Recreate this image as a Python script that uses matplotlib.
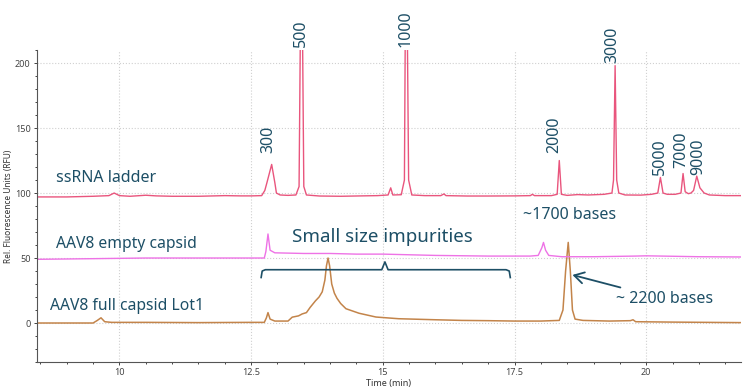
import matplotlib.pyplot as plt
from matplotlib.ticker import MultipleLocator

# Data
ladder_t = [8.43, 9.0, 9.5, 9.8, 9.9, 10.0, 10.2, 10.5, 10.7, 11.0, 11.5, 12.0, 12.3, 12.5, 12.7,
            12.76, 12.8, 12.89, 12.95, 12.98, 13.05, 13.2, 13.35, 13.41, 13.44, 13.47, 13.50, 13.55,
            13.8, 14.2, 14.6, 14.9, 15.10, 15.15, 15.19, 15.35, 15.41, 15.43, 15.46, 15.49, 15.55,
            15.8, 16.1, 16.16, 16.2, 16.6, 17.0, 17.5, 17.8, 17.84, 17.88, 18.2, 18.31, 18.35, 18.39,
            18.5, 18.7, 18.9, 19.2, 19.35, 19.38, 19.41, 19.44, 19.48, 19.6, 19.9, 20.1, 20.22, 20.27,
            20.32, 20.4, 20.55, 20.66, 20.70, 20.74, 20.8, 20.85, 20.9, 20.96, 21.02, 21.1, 21.2,
            21.5, 21.8]
ladder_rfu = [97, 97, 97.5, 98, 100, 98, 97.5, 98.3, 97.8, 97.5, 97.5, 98, 97.8, 97.8, 98,
              102, 108, 122, 108, 100, 98.5, 98.2, 98.5, 105, 250, 250, 105, 98.5,
              97.7, 97.5, 97.8, 98, 98.5, 104, 98.5, 98.7, 110, 250, 250, 110, 98.5,
              98, 98, 99.3, 98, 97.7, 97.7, 97.8, 98, 99, 98, 98, 99, 125, 99,
              98.2, 98.8, 98.5, 99, 100, 110, 198, 110, 100, 98.5, 98.4, 99, 100, 112,
              100, 99, 99, 100, 115, 101, 99.5, 100, 102, 113, 104, 100, 98.5,
              98, 98]

empty_t = [8.43, 9.5, 10.5, 12.0, 12.75, 12.78, 12.82, 12.86, 12.95, 13.5, 14.0, 14.5, 15.0,
           15.5, 16.0, 17.0, 17.8, 17.95, 18.02, 18.05, 18.09, 18.15, 18.4, 19.0, 19.8, 20.0,
           21.0, 21.8]
empty_rfu = [49, 49.5, 50, 50, 50, 55, 68.5, 56, 54, 53.5, 53.5, 53, 53,
             52.5, 52, 51.5, 51.5, 52, 58, 62, 56, 52, 51, 51, 51.5, 51.7,
             51, 50.8]

full_t = [8.43, 9.5, 9.58, 9.65, 9.72, 9.85, 10.5, 11.5, 12.5, 12.75, 12.79, 12.82, 12.86, 12.95,
          13.2, 13.28, 13.40, 13.47, 13.55, 13.62, 13.66, 13.72, 13.79, 13.85, 13.9, 13.93, 13.96,
          13.99, 14.03, 14.08, 14.13, 14.2, 14.3, 14.55, 14.87, 15.3, 16.0, 16.5, 17.0, 17.5, 18.0,
          18.35, 18.42, 18.47, 18.52, 18.56, 18.6, 18.65, 18.8, 19.3, 19.7, 19.75, 19.8, 20.5, 21.8]
full_rfu = [0, 0, 2, 4, 1, 0.5, 0.5, 0.3, 0.5, 0.5, 4, 8, 3, 1.5,
            1.5, 4.5, 5.5, 7, 8, 12, 14, 17, 20, 24, 33, 44, 50,
            44, 30, 23, 19, 15, 11, 7.5, 4.6, 3.3, 2.5, 2, 1.8, 1.5, 1.5,
            2, 10, 40, 62, 40, 10, 3, 2, 1.5, 1.8, 2.5, 1, 0.7, 0.3]

ladder_sizes = ['300', '500', '1000', '2000', '3000', '5000', '7000', '9000']
size_label_t = [12.83, 13.45, 15.44, 18.25, 19.36, 20.27, 20.67, 20.98]
size_label_y = [131, 212, 212, 131, 200, 114, 119, 114]

text_color = '#1d4f66'
plt.rcParams['font.family'] = ['Noto Sans', 'DejaVu Sans']

fig = plt.figure(figsize=(7.5, 3.88), dpi=100)
ax = fig.add_axes([0.049, 0.067, 0.939, 0.804])

ax.plot(full_t, full_rfu, color='#c3844a', lw=1.1)
ax.plot(empty_t, empty_rfu, color='#ee72e6', lw=1.0)
ax.plot(ladder_t, ladder_rfu, color='#e9557d', lw=1.0)

ax.set_xlim(8.43, 21.8)
ax.set_ylim(-30, 210)

# axes styling
ax.xaxis.set_major_locator(MultipleLocator(2.5))
ax.xaxis.set_minor_locator(MultipleLocator(0.5))
ax.yaxis.set_major_locator(MultipleLocator(50))
ax.yaxis.set_minor_locator(MultipleLocator(10))
ax.xaxis.set_major_formatter(lambda v, p: f'{v:g}')
ax.grid(True, which='major', color='#d0d0d0', ls=':', lw=0.8)
for s in ['top', 'right']:
    ax.spines[s].set_visible(False)
for s in ['left', 'bottom']:
    ax.spines[s].set_color('#555555')
ax.tick_params(which='both', labelsize=6.5, colors='#444444', length=2.5, width=0.7, pad=2)
ax.tick_params(which='minor', length=1.5)
ax.set_xlabel('Time (min)', fontsize=6.5, color='#333333', labelpad=1)
ax.set_ylabel('Rel. Fluorescence Units (RFU)', fontsize=6, color='#333333', labelpad=1)

# ladder size labels
for lab, t, y in zip(ladder_sizes, size_label_t, size_label_y):
    ax.text(t, y, lab, rotation=90, ha='center', va='bottom', fontsize=11.5,
            color=text_color, clip_on=False)

# trace names
ax.text(8.8, 111.5, 'ssRNA ladder', fontsize=11.5, color=text_color, va='center')
ax.text(8.8, 61, 'AAV8 empty capsid', fontsize=11.3, color=text_color, va='center')
ax.text(8.69, 13, 'AAV8 full capsid Lot1', fontsize=11.3, color=text_color, va='center')

# impurities annotation with brace
ax.text(15.0, 66, 'Small size impurities', fontsize=13.5, color=text_color,
        ha='center', va='center')
bx0, bx1, bmid = 12.69, 17.42, 15.04
ax.plot([bx0, bx0 + 0.02, bx0 + 0.08, bmid - 0.06, bmid, bmid + 0.06, bx1 - 0.08, bx1 - 0.02, bx1],
        [35, 40, 41, 41, 47, 41, 41, 40, 35], color=text_color, lw=1.2)

ax.text(18.55, 83, '~1700 bases', fontsize=11.5, color=text_color, ha='center', va='center')
ax.annotate('~ 2200 bases', xy=(18.6, 37), xytext=(19.42, 18.5), fontsize=11.5,
            color=text_color, va='center',
            arrowprops=dict(arrowstyle='->,head_length=0.6,head_width=0.35',
                            color=text_color, lw=1.3, shrinkA=2, shrinkB=0))

fig.savefig('out.png', dpi=100)
